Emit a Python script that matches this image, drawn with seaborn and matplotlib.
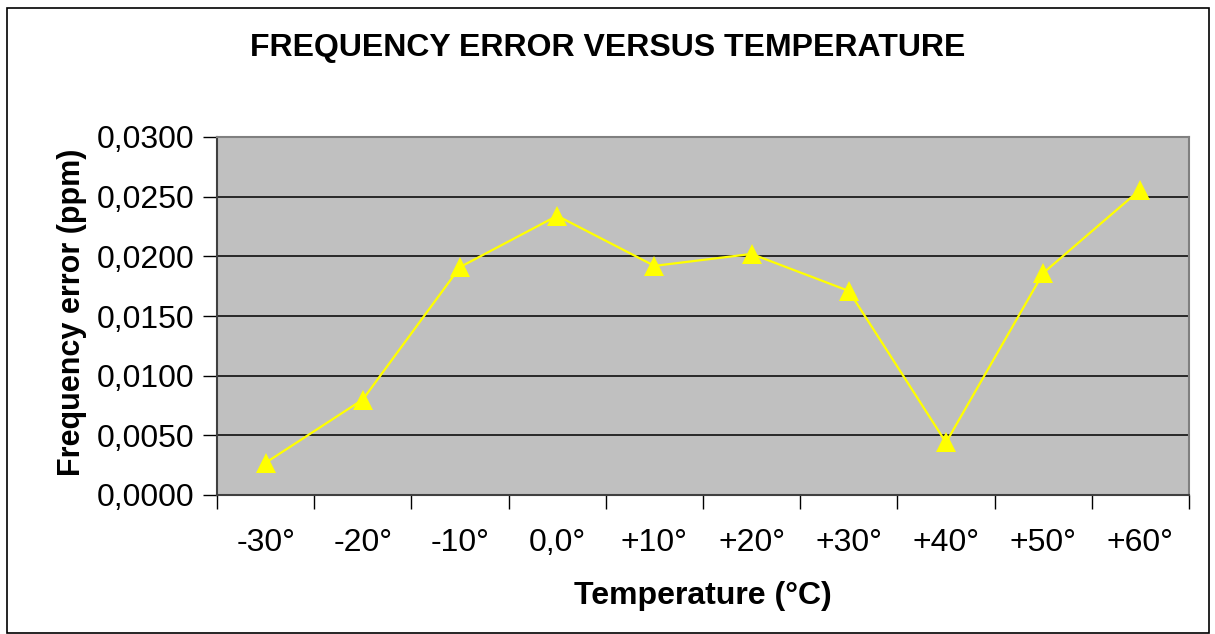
import matplotlib
matplotlib.use("Agg")
import matplotlib.pyplot as plt
import matplotlib.ticker as mticker
from matplotlib.patches import Rectangle
import seaborn as sns
import pandas as pd
import numpy as np

categories = ["-30°", "-20°", "-10°", "0,0°", "+10°", "+20°", "+30°", "+40°", "+50°", "+60°"]
freq_error = [0.0027, 0.0080, 0.0191, 0.0234, 0.0192, 0.0202, 0.0171, 0.0044, 0.0186, 0.0256]
y_ticks = [0.0, 0.005, 0.010, 0.015, 0.020, 0.025, 0.030]

sns.set_theme(style="white")
plt.rcParams['font.family'] = ['Liberation Sans', 'DejaVu Sans']

fig = plt.figure(figsize=(12.15, 6.34), dpi=100)
fig.patch.set_facecolor("white")
fig.patches.append(Rectangle((7 / 1215, 1 - 633 / 634), 1202 / 1215, 625 / 634,
                             transform=fig.transFigure, fill=False,
                             edgecolor="black", linewidth=1.2))

ax = fig.add_axes([217 / 1215, 1 - 495 / 634, (1189 - 217) / 1215, (495 - 137) / 634])
ax.set_facecolor("#C0C0C0")

df = pd.DataFrame({"x": np.arange(len(categories)), "y": freq_error})
sns.lineplot(data=df, x="x", y="y", ax=ax, color="#FFFF00", linewidth=1.6,
             marker="^", markersize=14, markeredgecolor="#FFFF00", markeredgewidth=0)

ax.set_xlim(-0.5, len(categories) - 0.5)
ax.set_ylim(0, 0.03)
ax.set_yticks(y_ticks)
ax.yaxis.set_major_formatter(mticker.FuncFormatter(lambda v, p: f"{v:.4f}".replace(".", ",")))
ax.set_xticks(np.arange(len(categories)))
ax.set_xticklabels(categories)
ax.set_xticks(np.arange(len(categories) + 1) - 0.5, minor=True)
ax.tick_params(axis="x", which="major", length=0, pad=24, labelsize=23, colors="black")
ax.tick_params(axis="x", which="minor", length=10, width=1, color="black", direction="out", bottom=True)
ax.tick_params(axis="y", which="major", length=10, width=1, color="black", direction="out",
               left=True, labelsize=23, labelcolor="black", pad=6)

for v in y_ticks[1:-1]:
    ax.axhline(v, color="black", linewidth=1.1, zorder=1)
ax.set_axisbelow(True)

for s in ["top", "right"]:
    ax.spines[s].set_color("#808080")
    ax.spines[s].set_linewidth(1.5)
for s in ["left", "bottom"]:
    ax.spines[s].set_color("#404040")
    ax.spines[s].set_linewidth(1.5)

ax.set_xlabel("Temperature (°C)", fontsize=23, fontweight="bold", color="black", labelpad=16)
ax.set_ylabel("Frequency error (ppm)", fontsize=22, fontweight="bold", color="black")
ax.yaxis.set_label_coords(-0.134, 0.51)

fig.text(608 / 1215, 1 - 48 / 634, "FREQUENCY ERROR VERSUS TEMPERATURE", ha="center", va="center",
         fontsize=23, fontweight="bold", color="black")

fig.savefig("out.png", dpi=100, facecolor="white")
